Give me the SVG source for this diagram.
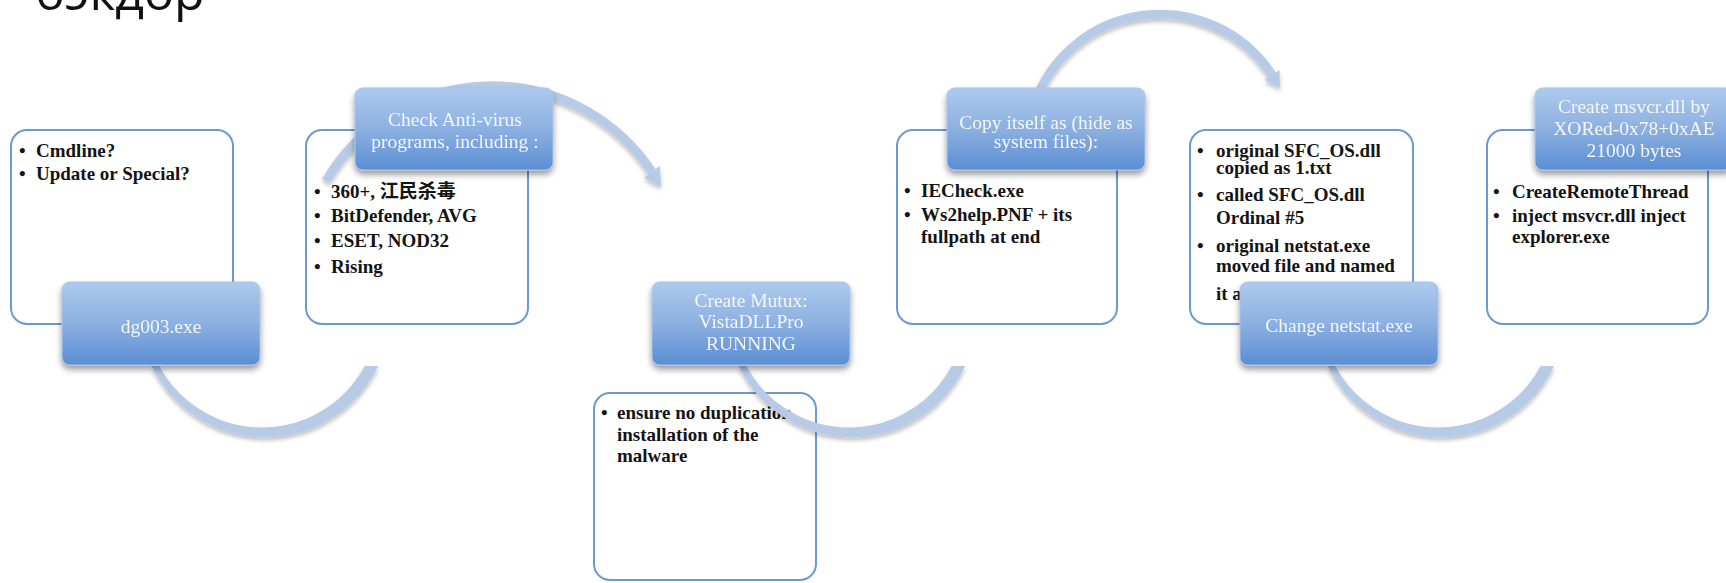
<svg xmlns="http://www.w3.org/2000/svg" xmlns:xlink="http://www.w3.org/1999/xlink" width="1726" height="583" viewBox="0 0 1726 583">
<defs>
<linearGradient id="bg" x1="0" y1="0" x2="0" y2="1">
<stop offset="0" stop-color="#aecaee"/>
<stop offset="0.5" stop-color="#8cb0e0"/>
<stop offset="1" stop-color="#5a8ed3"/>
</linearGradient>
<filter id="sh" x="-10%" y="-10%" width="120%" height="130%">
<feDropShadow dx="0" dy="4" stdDeviation="3" flood-color="#000" flood-opacity="0.4"/>
</filter>
<filter id="ash" x="-10%" y="-10%" width="120%" height="130%">
<feDropShadow dx="0" dy="3" stdDeviation="2" flood-color="#000" flood-opacity="0.25"/>
</filter>
<clipPath id="below">
<rect x="0" y="366" width="1726" height="217"/>
</clipPath>
<path id="ring" fill-rule="evenodd" d="M-125.5,0 a125.5,125.5 0 1,0 251,0 a125.5,125.5 0 1,0 -251,0 Z M-119.5,-1 a116.5,116.5 0 1,0 233,0 a116.5,116.5 0 1,0 -233,0 Z"/>
</defs>
<style>
.wb{fill:#fff;stroke:#6c99d4;stroke-width:2}
.bb{fill:url(#bg);stroke:#a9c3e8;stroke-width:1;filter:url(#sh)}
.t{font-family:"Liberation Serif","Noto Sans CJK SC",serif;font-weight:bold;font-size:19px;fill:#141414}
.h{font-family:"Liberation Serif",serif;font-size:19.5px;fill:#f3f6fb;text-anchor:middle}
.arc{fill:#b7cbe7}
.sarc{fill:none;stroke:#b7cbe7;stroke-width:9}
.ttl{font-family:"Open Sans",sans-serif;font-size:50px;fill:#111}
</style>
<rect width="1726" height="583" fill="#fff"/>
<text class="ttl" x="35" y="10">бэкдор</text>

<g id="n1-list">
<rect class="wb" x="11" y="130" width="222" height="194" rx="16"/>
<text class="t" x="19" y="157">•</text><text class="t" x="36" y="157">Cmdline?</text>
<text class="t" x="19" y="180">•</text><text class="t" x="36" y="180">Update or Special?</text>
</g>
<g id="n2-list">
<rect class="wb" x="306" y="130" width="222" height="194" rx="16"/>
<text class="t" x="314" y="198">•</text><text class="t" x="331" y="198">360+, 江民杀毒</text>
<text class="t" x="314" y="222">•</text><text class="t" x="331" y="222">BitDefender, AVG</text>
<text class="t" x="314" y="247">•</text><text class="t" x="331" y="247">ESET, NOD32</text>
<text class="t" x="314" y="273">•</text><text class="t" x="331" y="273">Rising</text>
</g>
<g id="n3-list">
<rect class="wb" x="594" y="393" width="222" height="187" rx="16"/>
<text class="t" x="601" y="419">•</text><text class="t" x="617" y="419">ensure no duplication</text>
<text class="t" x="617" y="441">installation of the</text>
<text class="t" x="617" y="462">malware</text>
</g>
<g id="n4-list">
<rect class="wb" x="897" y="130" width="220" height="194" rx="16"/>
<text class="t" x="904" y="197">•</text><text class="t" x="921" y="197">IECheck.exe</text>
<text class="t" x="904" y="221">•</text><text class="t" x="921" y="221">Ws2help.PNF + its</text>
<text class="t" x="921" y="243">fullpath at end</text>
</g>
<g id="n5-list">
<rect class="wb" x="1190" y="130" width="223" height="194" rx="16"/>
<text class="t" x="1197" y="157">•</text><text class="t" x="1216" y="157">original SFC_OS.dll</text>
<text class="t" x="1216" y="174">copied as 1.txt</text>
<text class="t" x="1197" y="201">•</text><text class="t" x="1216" y="201">called SFC_OS.dll</text>
<text class="t" x="1216" y="224">Ordinal #5</text>
<text class="t" x="1197" y="252">•</text><text class="t" x="1216" y="252">original netstat.exe</text>
<text class="t" x="1216" y="272">moved file and named</text>
<text class="t" x="1216" y="300">it a</text>
</g>
<g id="n6-list">
<rect class="wb" x="1487" y="130" width="221" height="194" rx="16"/>
<text class="t" x="1493" y="198">•</text><text class="t" x="1512" y="198">CreateRemoteThread</text>
<text class="t" x="1493" y="222">•</text><text class="t" x="1512" y="222">inject msvcr.dll inject</text>
<text class="t" x="1512" y="243">explorer.exe</text>
</g>

<g id="connectors" filter="url(#ash)">
<g clip-path="url(#below)">
<use xlink:href="#ring" class="arc" transform="translate(265,312)"/>
<use xlink:href="#ring" class="arc" transform="translate(852,312)"/>
<use xlink:href="#ring" class="arc" transform="translate(1441,312)"/>
</g>
<path class="sarc" d="M326,181 A192,192 0 0 1 652,172"/>
<polygon class="arc" points="660,166 644,177.5 661,187"/>
<path class="sarc" d="M1034,105 A133.2,133.2 0 0 1 1272,75"/>
<polygon class="arc" points="1279.5,70 1264.5,80 1280,88"/>
</g>

<g id="n1">
<rect class="bb" x="62" y="282" width="198" height="83" rx="8"/>
<text class="h" x="161" y="333">dg003.exe</text>
</g>
<g id="n2">
<rect class="bb" x="355" y="88" width="198" height="82" rx="8"/>
<text class="h" x="455" y="126">Check Anti-virus</text>
<text class="h" x="455" y="148">programs, including :</text>
</g>
<g id="n3">
<rect class="bb" x="652" y="282" width="198" height="83" rx="8"/>
<text class="h" x="751" y="307">Create Mutux:</text>
<text class="h" x="751" y="328">VistaDLLPro</text>
<text class="h" x="751" y="350">RUNNING</text>
</g>
<g id="n4">
<rect class="bb" x="947" y="88" width="198" height="82" rx="8"/>
<text class="h" x="1046" y="129">Copy itself as (hide as</text>
<text class="h" x="1046" y="148">system files):</text>
</g>
<g id="n5">
<rect class="bb" x="1240" y="282" width="198" height="83" rx="8"/>
<text class="h" x="1339" y="332">Change netstat.exe</text>
</g>
<g id="n6">
<rect class="bb" x="1535" y="88" width="198" height="82" rx="8"/>
<text class="h" x="1634" y="113">Create msvcr.dll by</text>
<text class="h" x="1634" y="135">XORed-0x78+0xAE</text>
<text class="h" x="1634" y="157">21000 bytes</text>
</g>
</svg>
